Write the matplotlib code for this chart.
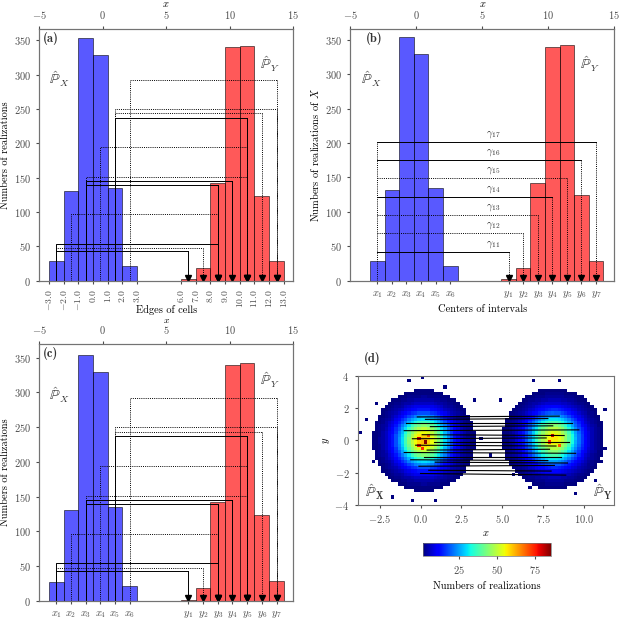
import numpy as np
import matplotlib
matplotlib.use('Agg')
import matplotlib.pyplot as plt

plt.rcParams['font.family'] = 'serif'
plt.rcParams['font.serif'] = ['cmr10']
plt.rcParams['mathtext.fontset'] = 'cm'
plt.rcParams['axes.formatter.use_mathtext'] = True
plt.rcParams['font.size'] = 7.5
plt.rcParams['axes.edgecolor'] = '0.45'
plt.rcParams['xtick.color'] = '0.3'
plt.rcParams['ytick.color'] = '0.3'
plt.rcParams['text.color'] = '0.2'
plt.rcParams['xtick.major.size'] = 2.5
plt.rcParams['ytick.major.size'] = 2.5
plt.rcParams['lines.dotted_pattern'] = [1.0, 1.2]

# histogram data (cell edges and counts)
x_edges = [-3, -2, -1, 0, 1, 2, 3]
y_edges = [6, 7, 8, 9, 10, 11, 12, 13]
x_counts = [28, 131, 354, 329, 135, 21]
y_counts = [2, 18, 142, 340, 342, 124, 29]
edge_labels = ['$\u22123.0$', '$\u22122.0$', '$\u22121.0$', '$0.0$', '$1.0$', '$2.0$', '$3.0$',
               '$6.0$', '$7.0$', '$8.0$', '$9.0$', '$10.0$', '$11.0$', '$12.0$', '$13.0$']
center_labels = ['$x_1$', '$x_2$', '$x_3$', '$x_4$', '$x_5$', '$x_6$',
                 '$y_1$', '$y_2$', '$y_3$', '$y_4$', '$y_5$', '$y_6$', '$y_7$']

# transport plan (a), (c): source cell -> target cell at a height
plan_src = [1, 1, 1, 2, 3, 3, 3, 4, 5, 5, 5, 6]
plan_dst = [1, 2, 3, 3, 3, 4, 5, 5, 5, 6, 7, 7]
plan_h = [42.6, 47.5, 54, 96.6, 139, 145.6, 151.5, 194.6, 237, 243.6, 249.5, 291.7]
plan_ls = ['-', ':', '-', ':', '-', '-', ':', ':', '-', ':', ':', ':']

# panel (b): x1 -> y_j
gamma_h = [42, 69, 95.5, 122, 149, 175, 202]
gamma_ls = ['-', ':', ':', '-', ':', '-', '-']

# panel (d): 2D clouds (read centres / typical peak counts / spread)
cloud_cx = [0.2, 8.15]
cloud_cy = [0.0, 0.1]
cloud_peak = [62, 58]
cloud_sigma = [1.1, 1.1]
# hot cells and isolated outlying cells
hot_x = [0.0, 0.3, -0.1, 0.5, 0.1, 8.2, 7.9, 8.5]
hot_y = [0.2, -0.1, -0.3, 0.3, -0.5, 0.3, 0.0, -0.2]
hot_n = [80, 85, 76, 70, 74, 80, 74, 70]
out_x = [-3.6, -3.3, -0.74, 0.08, -0.53, 1.0, 2.73, 4.98, 3.65, 6.82, 8.45, 11.3, 11.4, 10.8,
         5.69, 6.61, -2.9, -2.6, 3.3, 4.3, 10.9, 11.1, 9.6, 1.6, -1.6]
out_y = [0.43, 1.36, 3.66, 3.83, -3.79, -3.79, -1.32, 2.49, 0.02, 3.66, 3.66, 1.98, -0.41,
         -2.45, -2.14, -2.96, -1.2, 2.3, 2.6, -0.8, 1.2, -1.3, -3.2, 3.4, -3.4]
# transport segments in (d)
seg_x0 = [-0.2, 0.3, -0.9, 0.6, -1.0, 0.1, -0.5, 0.8, -0.3, 0.4, -1.0, 0.2, -0.6, 0.9, -0.1, 0.5, 0.0]
seg_y0 = [1.45, 1.3, 1.05, 0.85, 0.6, 0.35, 0.1, -0.1, -0.3, -0.6, -0.75, -1.0, -1.2, -1.35, -1.6, -1.85, -2.05]
seg_x1 = [8.5, 7.8, 9.3, 8.1, 9.7, 8.8, 7.7, 9.1, 8.3, 7.9, 9.5, 8.6, 7.8, 9.0, 8.2, 8.0, 8.9]
seg_y1 = [1.5, 1.35, 1.05, 0.9, 0.65, 0.3, 0.15, -0.1, -0.35, -0.55, -0.8, -1.0, -1.25, -1.4, -1.55, -1.9, -2.15]

x_cent = [(a + b) / 2 for a, b in zip(x_edges[:-1], x_edges[1:])]
y_cent = [(a + b) / 2 for a, b in zip(y_edges[:-1], y_edges[1:])]
LW = 0.7


def hist_panel(ax, xlim, ylim, tag, taglx, ylabel, xlab_y, xlab_fs=7.5):
    ax.bar(x_cent, x_counts, width=1, color='blue', alpha=0.65, edgecolor='k', linewidth=0.6)
    ax.bar(y_cent, y_counts, width=1, color='red', alpha=0.65, edgecolor='k', linewidth=0.6)
    ax.set_xlim(xlim)
    ax.set_ylim(ylim)
    ax.set_yticks(range(0, 351, 50))
    ax.set_ylabel(ylabel, labelpad=3)
    ax.text(taglx, 0.965, tag, transform=ax.transAxes, family='cmb10', fontsize=9,
            ha='left', va='center')
    ax.text(0.04, 0.78, r'$\hat{\mathbb{P}}_X$', transform=ax.transAxes, fontsize=10)
    ax.text(0.87, 0.84, r'$\hat{\mathbb{P}}_Y$', transform=ax.transAxes, fontsize=10)
    top = ax.twiny()
    top.set_xlim(-5, 15)
    top.set_xticks([-5, 0, 5, 10, 15])
    top.set_xlabel('$x$', fontsize=xlab_fs)
    top.xaxis.set_label_coords(0.5, xlab_y)


def draw_arrow(ax, x, h, ls):
    ax.plot([x, x], [h, 3], color='k', lw=LW, ls=ls)
    ax.plot(x, 4, 'v', color='k', ms=4.5, clip_on=False)


fig = plt.figure(figsize=(6.22, 6.23), dpi=100)

# (a) and (c)
for pos, tag, labels, ticks, xlabel in [
        ([0.0632, 0.5494, 0.408, 0.4036], '(a)', edge_labels, x_edges + y_edges, 'Edges of cells'),
        ([0.0632, 0.0353, 0.408, 0.412], '(c)', center_labels, x_cent + y_cent, 'Centers of intervals')]:
    ax = fig.add_axes(pos)
    ylim_top = 366 if tag == '(a)' else 369
    for s, d, h, ls in zip(plan_src, plan_dst, plan_h, plan_ls):
        xs, xd = x_cent[s - 1], y_cent[d - 1]
        ax.plot([xs, xs, xd], [0, h, h], color='k', lw=LW, ls=ls)
        draw_arrow(ax, xd, h, ls)
    if tag == '(a)':
        hist_panel(ax, (-3.66, 13.63), (0, ylim_top), tag, 0.015, 'Numbers of realizations', 1.088)
    else:
        hist_panel(ax, (-3.66, 13.63), (0, ylim_top), tag, 0.015, 'Numbers of realizations', 1.084, 7)
    ax.set_xticks(ticks)
    if tag == '(a)':
        ax.set_xticklabels(labels, rotation=90, fontsize=7)
        ax.set_xlabel(xlabel)
        ax.xaxis.set_label_coords(0.5, -0.095)
    else:
        ax.set_xticklabels(labels)
        ax.set_xlabel(xlabel, labelpad=3)

# (b)
ax = fig.add_axes([0.5632, 0.5494, 0.4244, 0.4036])
x1 = x_cent[0]
ax.plot([x1, x1], [0, gamma_h[-1]], color='k', lw=LW, ls=':')
for j, (h, ls) in enumerate(zip(gamma_h, gamma_ls)):
    xd = y_cent[j]
    ax.plot([x1, xd], [h, h], color='k', lw=LW, ls=ls)
    draw_arrow(ax, xd, h, ':')
    ax.text(5.45, h + 3, r'$\gamma_{1%d}$' % (j + 1), ha='center', va='bottom', fontsize=7.5)
hist_panel(ax, (-4.35, 13.75), (0, 365), '(b)', 0.06, 'Numbers of realizations of $X$', 1.09)
ax.set_xticks(x_cent + y_cent)
ax.set_xticklabels(center_labels)
ax.set_xlabel('Centers of intervals', labelpad=3)

# (d)
xe = np.arange(-3.8, 11.81, 0.2)
ye = np.arange(-4.0, 4.01, 0.2)
xc, yc = np.meshgrid((xe[:-1] + xe[1:]) / 2, (ye[:-1] + ye[1:]) / 2)
counts = np.zeros_like(xc)
for cx, cy, pk, sg in zip(cloud_cx, cloud_cy, cloud_peak, cloud_sigma):
    counts += pk * np.exp(-((xc - cx) ** 2 + (yc - cy) ** 2) / (2 * sg ** 2))
counts = np.floor(counts)
for hx, hy, hn in zip(hot_x, hot_y, hot_n):
    i = np.searchsorted(ye, hy) - 1
    j = np.searchsorted(xe, hx) - 1
    counts[i, j] = hn
for ox, oy in zip(out_x, out_y):
    i = np.searchsorted(ye, oy) - 1
    j = np.searchsorted(xe, ox) - 1
    counts[i, j] = max(counts[i, j], 1)
counts = np.ma.masked_less(counts, 1)

axd = fig.add_axes([0.5751, 0.1894, 0.412, 0.2075])
mesh = axd.pcolormesh(xe, ye, counts, cmap='jet', vmin=1, vmax=85.5)
for a, b, c, d in zip(seg_x0, seg_y0, seg_x1, seg_y1):
    axd.plot([a, c], [b, d], color='k', lw=0.8)
axd.set_xlim(-3.85, 11.85)
axd.set_ylim(-4, 4)
axd.set_xticks([-2.5, 0, 2.5, 5, 7.5, 10])
axd.set_yticks([-4, -2, 0, 2, 4])
axd.set_xlabel('$x$', labelpad=2)
axd.set_ylabel('$y$', labelpad=2)
axd.text(0.025, 1.13, '(d)', transform=axd.transAxes, family='cmb10', fontsize=9, va='center')
axd.text(0.03, 0.06, r'$\hat{\mathbb{P}}_\mathbf{X}$', transform=axd.transAxes, fontsize=10)
axd.text(0.995, 0.06, r'$\hat{\mathbb{P}}_\mathbf{Y}$', transform=axd.transAxes, fontsize=10, ha='right')

cax = fig.add_axes([0.6796, 0.1075, 0.2063, 0.0209])
cb = fig.colorbar(mesh, cax=cax, orientation='horizontal', ticks=[25, 50, 75])
cb.set_label('Numbers of realizations')
cb.outline.set_linewidth(0.5)

fig.savefig('out.png', dpi=100)
